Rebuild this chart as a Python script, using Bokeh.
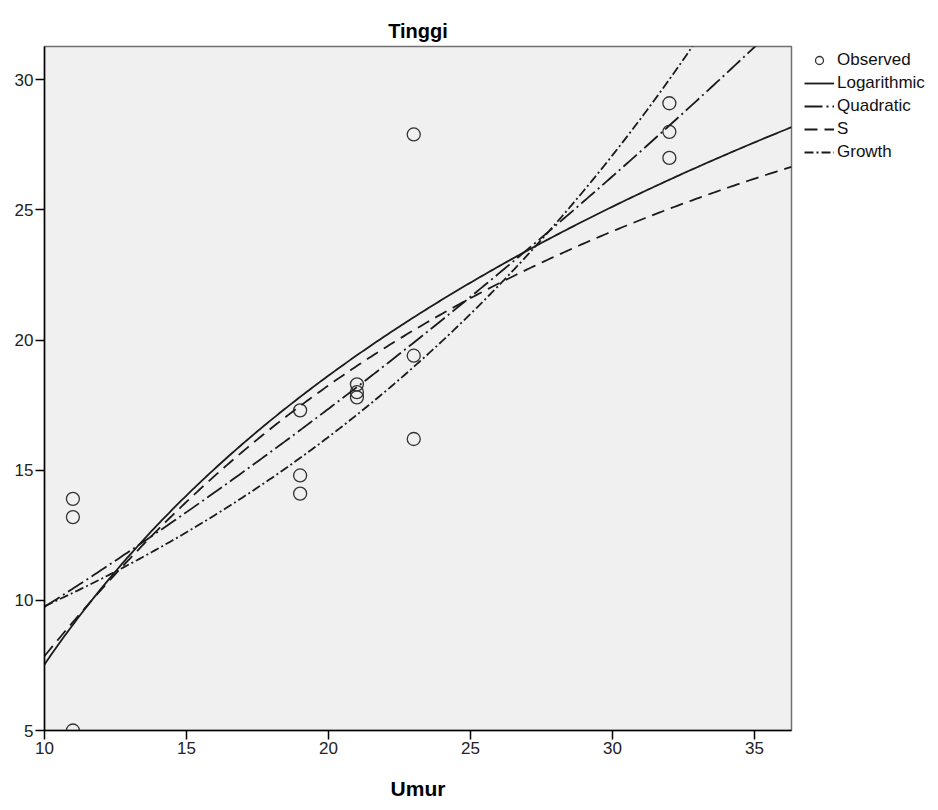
import numpy as np
from bokeh.plotting import figure
from bokeh.models import Range1d, Legend, LegendItem, FixedTicker
from bokeh.embed import file_html
from bokeh.resources import INLINE

# Observed data (Umur vs Tinggi)
umur = [11, 11, 11, 19, 19, 19, 21, 21, 21, 23, 23, 23, 32, 32, 32]
tinggi = [13.9, 13.2, 5.0, 17.3, 14.8, 14.1, 18.3, 18.0, 17.8, 27.9, 19.4, 16.2, 29.1, 28.0, 27.0]

x_ticks = [10, 15, 20, 25, 30, 35]
y_ticks = [5, 10, 15, 20, 25, 30]
x_lo, x_hi = 10, 36.3
y_lo, y_hi = 5, 31.28

xo = np.array(umur, dtype=float)
yo = np.array(tinggi, dtype=float)

# Curve-estimation fits (as in SPSS) computed from the observed data
xs = np.linspace(x_lo, x_hi, 300)
b_log = np.polyfit(np.log(xo), yo, 1)
y_log = np.polyval(b_log, np.log(xs))
b_quad = np.polyfit(xo, yo, 2)
y_quad = np.polyval(b_quad, xs)
b_s = np.polyfit(1.0 / xo, np.log(yo), 1)
y_s = np.exp(np.polyval(b_s, 1.0 / xs))
b_gr = np.polyfit(xo, np.log(yo), 1)
y_gr = np.exp(np.polyval(b_gr, xs))

FW, FH = 747, 684
p = figure(frame_width=FW, frame_height=FH, output_backend="svg", toolbar_location=None,
           x_range=Range1d(x_lo, x_hi), y_range=Range1d(y_lo, y_hi),
           min_border_left=44, min_border_right=4, min_border_top=46, min_border_bottom=72,
           title="Tinggi")
p.background_fill_color = "#f0f0f0"
p.border_fill_color = "white"
p.outline_line_color = "#707070"
p.outline_line_width = 1.5
p.grid.visible = False

p.title.align = "center"
p.title.text_font = "Liberation Sans"
p.title.text_font_size = "20px"
p.title.text_font_style = "bold"
p.title.text_color = "#000000"

for ax in (p.xaxis[0], p.yaxis[0]):
    ax.axis_line_color = "#000000"
    ax.axis_line_width = 1.5
    ax.major_tick_line_color = "#000000"
    ax.major_tick_line_width = 1.5
    ax.major_tick_out = 9
    ax.major_tick_in = 0
    ax.minor_tick_out = 0
    ax.minor_tick_in = 0
    ax.major_label_text_font = "Liberation Sans"
    ax.major_label_text_font_size = "17px"
    ax.major_label_text_color = "#222222"
    ax.major_label_standoff = 2

p.xaxis.ticker = FixedTicker(ticks=x_ticks)
p.yaxis.ticker = FixedTicker(ticks=y_ticks)
p.xaxis.axis_label = "Umur"
p.xaxis.axis_label_text_font = "Liberation Sans"
p.xaxis.axis_label_text_font_size = "21px"
p.xaxis.axis_label_text_font_style = "bold"
p.xaxis.axis_label_text_color = "#000000"
p.xaxis.axis_label_standoff = 20

lc = "#1a1a1a"
r_obs = p.scatter(umur, tinggi, size=13, marker="circle", fill_color=None,
                  line_color="#333333", line_width=1.3)
r_log = p.line(xs, y_log, line_color=lc, line_width=1.8)
r_quad = p.line(xs, y_quad, line_color=lc, line_width=1.8, line_dash="18 4 2 4")
r_s = p.line(xs, y_s, line_color=lc, line_width=1.8, line_dash="13 7")
r_gr = p.line(xs, y_gr, line_color=lc, line_width=1.8, line_dash="9 3 2 3")

legend = Legend(items=[
    LegendItem(label="Observed", renderers=[r_obs]),
    LegendItem(label="Logarithmic", renderers=[r_log]),
    LegendItem(label="Quadratic", renderers=[r_quad]),
    LegendItem(label="S", renderers=[r_s]),
    LegendItem(label="Growth", renderers=[r_gr]),
], location=(13, FH - 116))
legend.border_line_color = None
legend.background_fill_alpha = 0
legend.margin = 0
legend.padding = 2
legend.spacing = 3
legend.glyph_width = 30
legend.glyph_height = 20
legend.label_height = 20
legend.label_standoff = 3
legend.label_text_font = "Liberation Sans"
legend.label_text_font_size = "17px"
legend.label_text_color = "#111111"
p.add_layout(legend, "right")

open("out.html", "w").write(file_html(p, INLINE))
